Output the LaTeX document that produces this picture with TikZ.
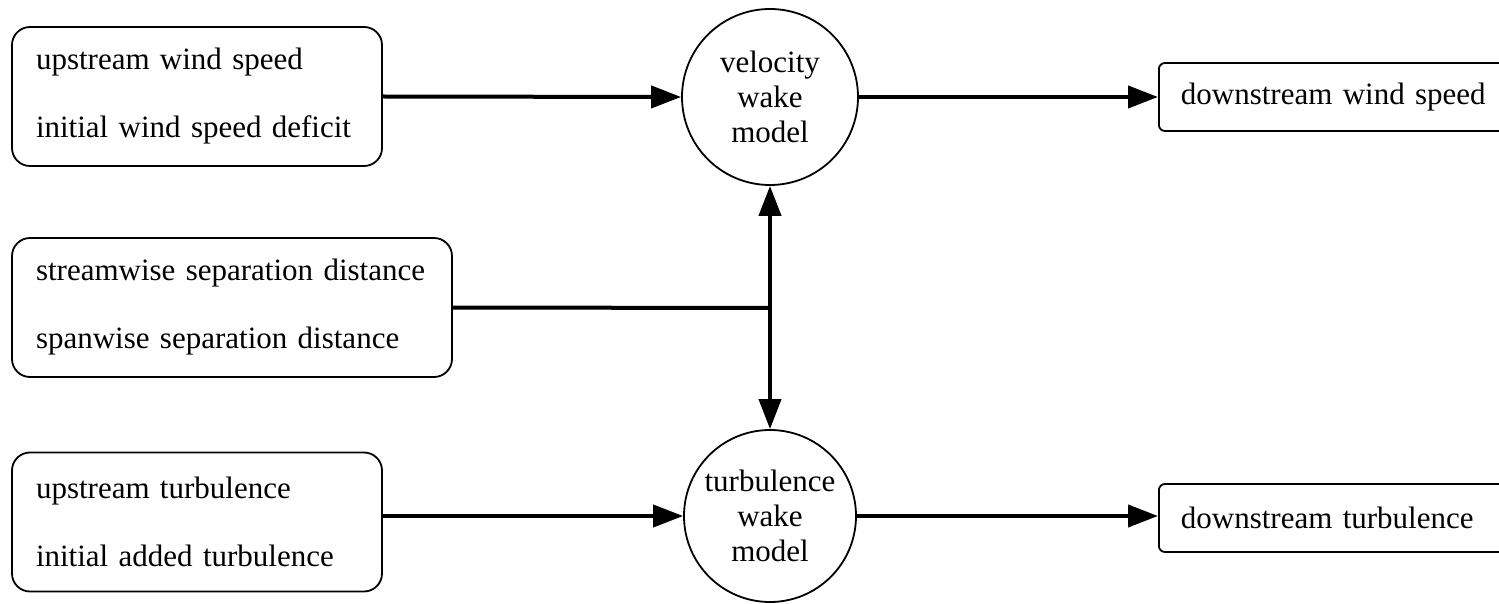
\documentclass[tikz,border=0pt]{standalone}
\usepackage{fontspec}
\setmainfont{Liberation Serif}
\usetikzlibrary{arrows.meta}
\begin{document}
\begin{tikzpicture}[x=0.5pt,y=-0.5pt,
  inbox/.style={draw, line width=0.9pt, rounded corners=9pt, align=left,
    inner xsep=12pt, minimum height=69.5pt,
    font=\fontsize{15.5}{34}\selectfont},
  outbox/.style={draw, line width=0.9pt, rounded corners=3pt, align=left,
    inner xsep=11pt, minimum height=34pt, text width=300pt, anchor=west,
    font=\fontsize{15.5}{18}\selectfont},
  model/.style={draw, line width=0.9pt, circle, minimum size=88pt, inner sep=0pt,
    align=center, font=\fontsize{15.5}{17.5}\selectfont},
  conn/.style={line width=2pt},
  arr/.style={conn, -{Triangle[length=15pt,width=11pt]}},
]
\useasboundingbox (0,0) rectangle (1499,604);
\clip (0,0) rectangle (1499,604);
\fill[white] (0,0) rectangle (1499,604);

\node[inbox, text width=161pt] (in1) at (197,96.5)
  {upstream wind speed\\initial wind speed deficit};
\node[inbox, text width=196pt] (in2) at (232,307.5)
  {streamwise separation distance\\spanwise separation distance};
\node[inbox, text width=161pt] (in3) at (197,522)
  {upstream turbulence\\initial added turbulence};

\node[model] (vel) at (770,97) {velocity\\wake\\model};
\node[model, minimum size=86pt] (turb) at (770,516) {turbulence\\wake\\model};

\node[outbox] (out1) at (1158,97) {downstream wind speed};
\node[outbox] (out2) at (1158,518) {downstream turbulence};

\coordinate (j) at (770,308);

\draw[arr] (in1.east) -- (vel.west);
\draw[arr] (vel.east) -- (out1.west);
\draw[arr] (in3.east |- turb.west) -- (turb.west);
\draw[arr] (turb.east) -- (out2.west |- turb.east);
\draw[conn] (in2.east) -- (j);
\draw[conn, {Triangle[length=15pt,width=11pt]}-{Triangle[length=15pt,width=11pt]}] (vel.south) -- (turb.north);
\end{tikzpicture}
\end{document}
